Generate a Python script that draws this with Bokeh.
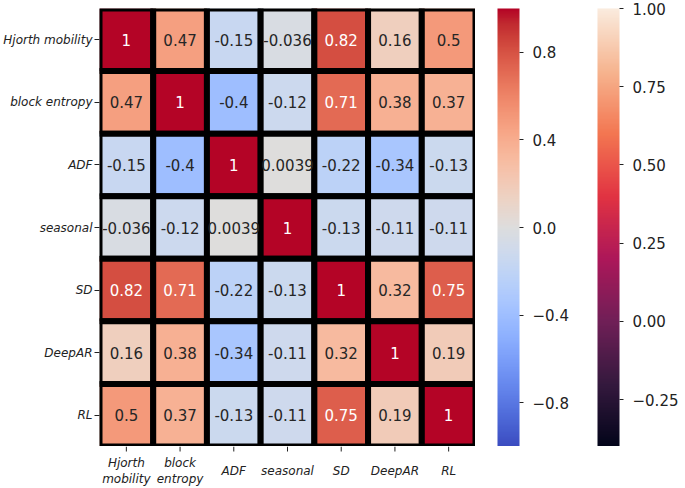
import numpy as np
from bokeh.plotting import figure
from bokeh.layouts import row, column
from bokeh.models import (ColumnDataSource, LinearColorMapper, ColorBar, FixedTicker,
                          CustomJSTickFormatter, FactorRange, Range1d)
from bokeh.embed import file_html
from bokeh.resources import INLINE

labels = ["Hjorth mobility", "block entropy", "ADF", "seasonal", "SD", "DeepAR", "RL"]
row_hjorth   = [1, 0.47, -0.15, -0.036, 0.82, 0.16, 0.5]
row_block    = [0.47, 1, -0.4, -0.12, 0.71, 0.38, 0.37]
row_adf      = [-0.15, -0.4, 1, 0.0039, -0.22, -0.34, -0.13]
row_seasonal = [-0.036, -0.12, 0.0039, 1, -0.13, -0.11, -0.11]
row_sd       = [0.82, 0.71, -0.22, -0.13, 1, 0.32, 0.75]
row_deepar   = [0.16, 0.38, -0.34, -0.11, 0.32, 1, 0.19]
row_rl       = [0.5, 0.37, -0.13, -0.11, 0.75, 0.19, 1]
rows = [row_hjorth, row_block, row_adf, row_seasonal, row_sd, row_deepar, row_rl]

cb1_ticks = [-0.8, -0.4, 0.0, 0.4, 0.8]
cb2_ticks = [-0.25, 0.0, 0.25, 0.5, 0.75, 1.0]

# --- colormaps (styles) ---
def interp_palette(anchors, n=256):
    pos = np.array([a[0] for a in anchors])
    cols = np.array([a[1] for a in anchors], dtype=float)
    t = np.linspace(0, 1, n)
    out = []
    for ti in t:
        r = np.interp(ti, pos, cols[:, 0]); g = np.interp(ti, pos, cols[:, 1]); b = np.interp(ti, pos, cols[:, 2])
        out.append("#%02x%02x%02x" % (int(round(r)), int(round(g)), int(round(b))))
    return out

cw = [(59,76,192),(68,90,204),(77,104,215),(87,117,225),(98,130,234),(108,142,241),(119,154,247),
      (130,165,251),(141,176,254),(152,185,255),(163,194,255),(174,201,253),(184,208,249),(194,213,244),
      (204,217,238),(213,219,230),(221,221,221),(229,216,209),(236,211,197),(241,204,185),(245,196,173),
      (247,187,160),(247,177,148),(247,166,135),(244,154,123),(241,141,111),(236,127,99),(229,112,88),
      (222,96,77),(213,80,66),(203,62,56),(192,40,47),(180,4,38)]
coolwarm = interp_palette([(i / 32, c) for i, c in enumerate(cw)])

def hx(h):
    return tuple(int(h[i:i + 2], 16) for i in (1, 3, 5))
rk = ["#03051A", "#35193E", "#701F57", "#AD1759", "#E13342", "#F37651", "#F6B48F", "#FAEBDD"]
rocket = interp_palette([(i / 7, hx(c)) for i, c in enumerate(rk)])

# --- data source ---
xs, ys, vs, txt, tcol = [], [], [], [], []
for i, r in enumerate(rows):
    for j, v in enumerate(r):
        xs.append(labels[j]); ys.append(labels[i]); vs.append(v)
        txt.append("%.2g" % v)
        tcol.append("white" if v > 0.6 else "#262626")
src = ColumnDataSource(dict(x=xs, y=ys, v=vs, t=txt, c=tcol))

m1 = LinearColorMapper(palette=coolwarm, low=-1, high=1)
m2 = LinearColorMapper(palette=rocket, low=min(min(r) for r in rows), high=1)

FW, FH, LEFT, TOP = 376, 438, 97, 8
TXT = "#222222"

p = figure(frame_width=FW, frame_height=FH, x_range=FactorRange(*labels), y_range=FactorRange(*labels[::-1]),
           output_backend="svg", toolbar_location=None, min_border_top=TOP, min_border_right=0,
           min_border_left=LEFT, min_border_bottom=0)
p.rect(x="x", y="y", width=1, height=1, source=src,
       fill_color={"field": "v", "transform": m1}, line_color="black", line_width=6)
p.text(x="x", y="y", text="t", text_color="c", source=src, text_align="center",
       text_baseline="middle", text_font_size="15px", text_font={"value": "DejaVu Sans"})

p.grid.visible = False
p.outline_line_color = None
p.xaxis.visible = False
ya = p.yaxis[0]
ya.axis_line_color = None
ya.major_tick_in = 0
ya.major_tick_out = 5
ya.major_tick_line_color = TXT
ya.minor_tick_line_color = None
ya.major_label_text_font_size = "12px"
ya.major_label_text_font_style = "italic"
ya.major_label_text_font = "DejaVu Sans"
ya.major_label_text_color = TXT
ya.major_label_standoff = 2

# --- x ticks and two-line tick labels in a strip figure sharing the x range ---
lx, ly, lt = [], [], []
for lab in labels:
    parts = lab.split(" ")
    n = len(parts)
    for k, part in enumerate(parts):
        lx.append(lab); ly.append(-24 + (k - (n - 1) / 2) * -16); lt.append(part)
lab_src = ColumnDataSource(dict(x=lx, y=ly, t=lt))

pl = figure(frame_width=FW, frame_height=40, x_range=p.x_range, y_range=Range1d(-40, 0),
            output_backend="svg", toolbar_location=None, min_border_top=0, min_border_right=0,
            min_border_left=LEFT, min_border_bottom=0)
pl.segment(x0=labels, y0=[0] * len(labels), x1=labels, y1=[-5] * len(labels), line_color=TXT, line_width=1)
pl.text(x="x", y="y", text="t", source=lab_src, text_align="center", text_baseline="middle",
        text_font_size="12px", text_font_style="italic", text_font={"value": "DejaVu Sans"},
        text_color=TXT)
pl.axis.visible = False
pl.grid.visible = False
pl.outline_line_color = None

def make_cb(mapper, ticks, digits):
    return ColorBar(color_mapper=mapper, ticker=FixedTicker(ticks=ticks),
                    formatter=CustomJSTickFormatter(code="return tick.toFixed(%d).replace('-', '\u2212')" % digits),
                    width=22, padding=0, label_standoff=9,
                    major_label_text_font_size="15px", major_label_text_font="DejaVu Sans",
                    major_label_text_color=TXT,
                    major_tick_out=4, major_tick_in=0, major_tick_line_color=TXT,
                    minor_tick_line_color=None, bar_line_color=None, border_line_color=None,
                    background_fill_alpha=0)

def cb_holder(cb, gap):
    f = figure(frame_width=1, frame_height=FH, output_backend="svg", toolbar_location=None,
               min_border_top=TOP, min_border_bottom=0, min_border_left=gap, min_border_right=0)
    f.axis.visible = False
    f.grid.visible = False
    f.outline_line_color = None
    f.add_layout(cb, "right")
    return f

pc1 = cb_holder(make_cb(m1, cb1_ticks, 1), 21)
pc2 = cb_holder(make_cb(m2, cb2_ticks, 2), 25)

layout = row(column(p, pl), pc1, pc2)
open("out.html", "w").write(file_html(layout, INLINE))
